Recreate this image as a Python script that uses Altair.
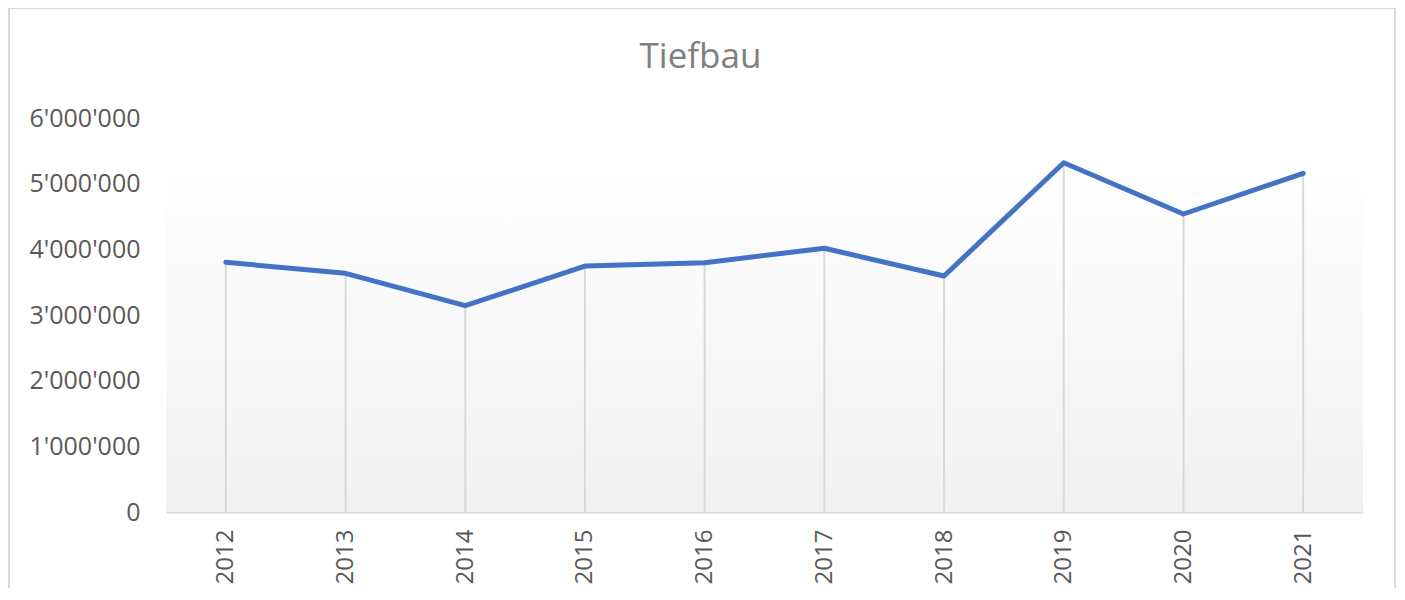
import altair as alt
import pandas as pd

years = ["2012", "2013", "2014", "2015", "2016", "2017", "2018", "2019", "2020", "2021"]
values = [3802000, 3635000, 3142000, 3746000, 3796000, 4016000, 3594000, 5319000, 4538000, 5157000]
title_text = ["Tiefbau"]
y_ticks = [0, 1000000, 2000000, 3000000, 4000000, 5000000, 6000000]

df = pd.DataFrame({"year": years, "value": values})
tdf = pd.DataFrame({"t": title_text})

W, H = 1197, 394
FONT = "Open Sans"
GRAY = "#595959"

x_enc = alt.X(
    "year:O",
    scale=alt.Scale(type="point", padding=0.5),
    axis=alt.Axis(
        title=None, labelAngle=-90, labelFontSize=24, labelColor=GRAY, labelFont=FONT,
        ticks=False, labelPadding=17, domainColor="#d9d9d9", domainWidth=2,
        grid=False,
    ),
)
y_scale = alt.Scale(domain=[0, 6000000], nice=False)
y_axis = alt.Axis(
    title=None, values=y_ticks, grid=False, domain=False, ticks=False,
    labelFontSize=25, labelColor=GRAY, labelFont=FONT, labelPadding=26,
    labelExpr="replace(format(datum.value, ','), regexp(',', 'g'), \"'\")",
)

base = alt.Chart(df)

grad = alt.LinearGradient(
    gradient="linear",
    stops=[alt.GradientStop(color="#ffffff", offset=0), alt.GradientStop(color="#f1f1f1", offset=1)],
    x1=0, x2=0, y1=0, y2=1,
)

bg = base.transform_aggregate(vmax="max(value)").mark_rect(color=grad).encode(
    x=alt.value(0), x2=alt.value(W),
    y=alt.Y("vmax:Q", scale=y_scale, axis=y_axis),
    y2=alt.datum(0),
)

border = base.transform_aggregate(n="count()").mark_rect(
    fill=None, stroke="#d9d9d9", strokeWidth=2
).encode(
    x=alt.value(-157), x2=alt.value(1229), y=alt.value(-110), y2=alt.value(600),
)

drops = base.mark_rule(color="#d9d9d9", strokeWidth=2).encode(
    x=x_enc,
    y=alt.Y("value:Q", scale=y_scale, axis=y_axis),
    y2=alt.datum(0),
)

line = base.mark_line(color="#4472c4", strokeWidth=5, strokeJoin="round", strokeCap="round").encode(
    x=x_enc,
    y=alt.Y("value:Q", scale=y_scale, axis=y_axis),
)

title = alt.Chart(tdf).mark_text(
    fontSize=35, font=FONT, color="#808080", align="center", baseline="middle"
).encode(
    text="t:N", x=alt.value(W / 2 - 64), y=alt.value(-61),
)

chart = alt.layer(bg, drops, line, border, title).properties(
    width=W, height=H,
    autosize=alt.AutoSizeParams(type="none"),
    padding={"left": 158, "top": 110, "right": 34, "bottom": 76},
).configure_view(stroke=None)

chart.save("out.html", embed_options={"renderer": "svg", "actions": False})
